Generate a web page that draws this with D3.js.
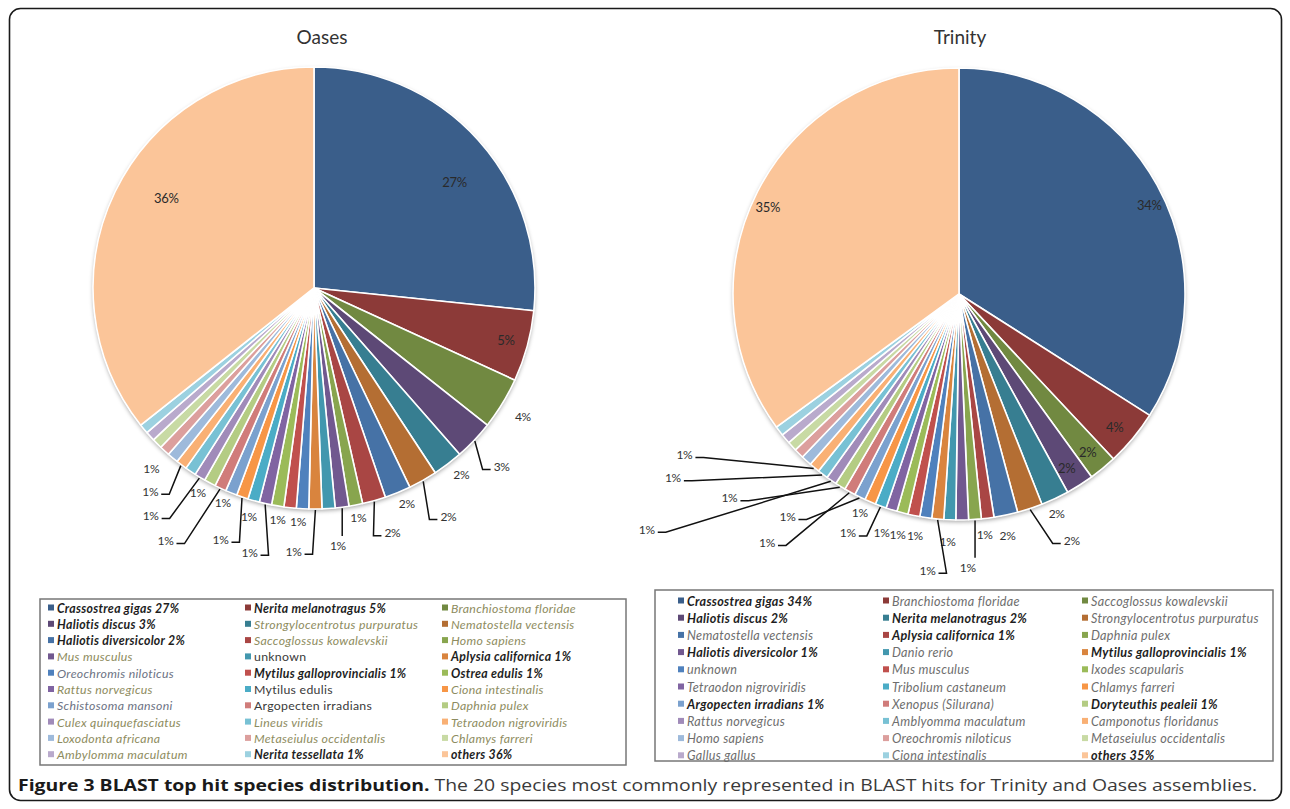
<!DOCTYPE html>
<html><head><meta charset="utf-8">
<script src="https://cdn.jsdelivr.net/npm/d3@7"></script>
<style>body{margin:0;background:#fff} svg{display:block}</style>
</head><body>
<svg id="c" width="1290" height="809"></svg>
<script>
// ---------------- DATA ----------------
const oasesSpecies = ["Crassostrea gigas 27%","Nerita melanotragus 5%","Branchiostoma floridae","Haliotis discus 3%","Strongylocentrotus purpuratus","Nematostella vectensis","Haliotis diversicolor 2%","Saccoglossus kowalevskii","Homo sapiens","Mus musculus","unknown","Aplysia californica 1%","Oreochromis niloticus","Mytilus galloprovincialis 1%","Ostrea edulis 1%","Rattus norvegicus","Mytilus edulis","Ciona intestinalis","Schistosoma mansoni","Argopecten irradians","Daphnia pulex","Culex quinquefasciatus","Lineus viridis","Tetraodon nigroviridis","Loxodonta africana","Metaseiulus occidentalis","Chlamys farreri","Ambylomma maculatum","Nerita tessellata 1%","others 36%"];
const oasesValues = [26.6,5.2,3.8,2.9,2.2,2.1,1.9,1.7,1.0,1.0,0.95,0.95,0.9,0.9,0.9,0.9,0.85,0.85,0.85,0.85,0.85,0.8,0.8,0.8,0.8,0.75,0.75,0.7,0.7,35.6];

const trinitySpecies = ["Crassostrea gigas 34%","Branchiostoma floridae","Saccoglossus kowalevskii","Haliotis discus 2%","Nerita melanotragus 2%","Strongylocentrotus purpuratus","Nematostella vectensis","Aplysia californica 1%","Daphnia pulex","Haliotis diversicolor 1%","Danio rerio","Mytilus galloprovincialis 1%","unknown","Mus musculus","Ixodes scapularis","Tetraodon nigroviridis","Tribolium castaneum","Chlamys farreri","Argopecten irradians 1%","Xenopus (Silurana)","Doryteuthis pealeii 1%","Rattus norvegicus","Amblyomma maculatum","Camponotus floridanus","Homo sapiens","Oreochromis niloticus","Metaseiulus occidentalis","Gallus gallus","Ciona intestinalis","others 35%"];
const trinityValues = [34.0,4.0,2.0,2.0,2.0,1.8,1.7,0.9,0.9,0.9,0.85,0.85,0.85,0.85,0.8,0.8,0.8,0.8,0.8,0.8,0.75,0.75,0.75,0.75,0.75,0.7,0.7,0.7,0.7,35.0];

const titles = ["Oases","Trinity"];
const captionBold = "Figure 3 BLAST top hit species distribution.";
const captionText = " The 20 species most commonly represented in BLAST hits for Trinity and Oases assemblies.";

// ---------------- LABEL LAYOUT HINTS (radial offset px, angle nudge deg; null = hidden) ----------------
const oasesLabelHints = [[-45,5],[-22,0],[24,0],[38,0],[17,-1],[44,-1],[14,-1],[36,-2],[13,0],[38,2],null,[43,4.8],null,[13,-2.3],[13,-0.5],[51,1],[17,0],[47,1.5],[12.5,1],[72,5.4],[14,1.5],[59,4.6],null,[40,2],[22,2.3],null,null,null,null,[-48,5.5]];
const trinityLabelHints = [[-16,3.8],[-21,0.9],[-22,0.4],[-21,0.6],[14,1.1],[45,-6.3],[20,0.6],[16,1.2],[48,2.2],null,[22,0.3],[52,1.1],[19,1.9],[22.6,2.8],[25,3.5],null,[37.5,4.7],[14,1.3],[55,11.6],[88,8.8],[81,16.7],[165,18.6],[114,20.2],[92,19.9],null,null,null,null,null,[-16,-2.5]];

// ---------------- STYLE ----------------
const base = ["#4F81BD","#C0504D","#9BBB59","#8064A2","#4BACC6","#F79646"];
const palette = [];
[["#000",0.27],["#000",0.12],["#fff",0],["#fff",0.25],["#fff",0.45]].forEach(([t,k])=>{
  base.forEach(c=>palette.push(d3.interpolateRgb(c,t)(k)));
});

const svg = d3.select("#c");
const defs = svg.append("defs");
const f = defs.append("filter").attr("id","sh").attr("x","-10%").attr("y","-10%").attr("width","120%").attr("height","125%");
f.append("feDropShadow").attr("dx",0).attr("dy",2).attr("stdDeviation",2.2).attr("flood-color","#000").attr("flood-opacity",0.35);

// frame
svg.append("rect").attr("x",9.5).attr("y",8.5).attr("width",1272).attr("height",792)
  .attr("rx",11).attr("fill","#fff").attr("stroke","#1a1a1a").attr("stroke-width",1.6);

const FONT = "Lato, 'Open Sans', sans-serif";

function drawPie(cfg){
  const {cx, cy, r, values, hints, title} = cfg;
  const total = d3.sum(values);
  const arcs = d3.pie().sort(null).value(d=>d)(values);
  const arcGen = d3.arc().innerRadius(0).outerRadius(r);
  const g = svg.append("g").attr("transform",`translate(${cx},${cy})`);
  g.append("circle").attr("r",r).attr("fill","#fff").attr("filter","url(#sh)");
  g.selectAll("path.s").data(arcs).join("path").attr("class","s")
    .attr("d",arcGen).attr("fill",(d,i)=>palette[i])
    .attr("stroke","#fff").attr("stroke-width",1.6).attr("stroke-linejoin","round");
  const polar = (R,a)=>[R*Math.sin(a), -R*Math.cos(a)];
  const lab = g.append("g");
  arcs.forEach((a,i)=>{
    const h = hints[i]; if(!h) return;
    const [ext, turn] = h;
    const mid = (a.startAngle+a.endAngle)/2;
    const la = mid + turn*Math.PI/180;
    const P = polar(r+ext, la);
    const txt = Math.round(a.value/total*100)+"%";
    if (ext > 30){
      const E = polar(r+1, mid);
      let pts;
      if (Math.abs(E[0]-P[0]) < 8) pts = [E,[E[0],P[1]-10]];
      else {
        const s = Math.sign(E[0]-P[0]);
        pts = [E,[P[0]+s*19,P[1]+3],[P[0]+s*11,P[1]+3]];
      }
      lab.append("path").attr("d",d3.line()(pts)).attr("fill","none")
        .attr("stroke","#111").attr("stroke-width",1.5);
    }
    const inside = ext < 0;
    lab.append("text").attr("x",P[0]).attr("y",P[1]).attr("text-anchor","middle")
      .attr("dominant-baseline","central").attr("font-family",FONT)
      .attr("font-size",inside?13:12).attr("fill",inside?"#2a2a2a":"#333")
      .attr("letter-spacing",-0.3).text(txt);
  });
  svg.append("text").attr("x",cx+(cfg.titleDx||0)).attr("y",44).attr("text-anchor","middle")
    .attr("font-family",FONT).attr("font-size",19).attr("fill","#333").text(title);
}

drawPie({cx:314, cy:288, r:221, values:oasesValues, hints:oasesLabelHints, title:titles[0], titleDx:8});
drawPie({cx:959, cy:294, r:226, values:trinityValues, hints:trinityLabelHints, title:titles[1], titleDx:1});

function drawLegend(cfg){
  const {x,y,w,h,names,colX,row0,rowH,textColor,fs} = cfg;
  svg.append("rect").attr("x",x).attr("y",y).attr("width",w).attr("height",h)
    .attr("fill","#fff").attr("stroke","#777").attr("stroke-width",1.5);
  const g = svg.append("g");
  const rowScale = d3.scaleLinear().domain([0,1]).range([row0,row0+rowH]);
  names.forEach((n,i)=>{
    const col = i%3, row = Math.floor(i/3);
    const yy = rowScale(row);
    g.append("rect").attr("x",colX[col]).attr("y",yy-3.5).attr("width",6).attr("height",6).attr("fill",palette[i]);
    const bold = n.includes("%");
    const st = textColor(n,bold);
    g.append("text").attr("x",colX[col]+9).attr("y",yy).attr("dominant-baseline","central")
      .attr("font-family",FONT).attr("font-size",fs).attr("letter-spacing",0.3)
      .attr("font-weight",bold?"bold":"normal").attr("font-style",st.italic?"italic":"normal")
      .attr("fill",st.color).text(n);
  });
}
const oasesUpright = ["unknown","Mytilus edulis","Argopecten irradians"];
const oasesGrayBlue = ["Oreochromis niloticus","Schistosoma mansoni"];
drawLegend({x:40,y:599,w:586,h:166,names:oasesSpecies,colX:[48,245,442],row0:608,rowH:16.3,fs:12.3,
  textColor:(n,b)=> b?{italic:true,color:"#1e1e1e"}:
    oasesUpright.includes(n)?{italic:false,color:"#3a3a3a"}:
    oasesGrayBlue.includes(n)?{italic:true,color:"#6d7384"}:{italic:true,color:"#8e8c60"}});
drawLegend({x:655,y:590,w:618,h:171,names:trinitySpecies,colX:[678,883,1082],row0:601,rowH:17.2,fs:12.6,
  textColor:(n,b)=> b?{italic:true,color:"#1e1e1e"}:{italic:true,color:"#6e6e6e"}});

// caption
const cap = svg.append("text").attr("x",18).attr("y",791).attr("font-family","'Liberation Sans Narrow', 'Open Sans', sans-serif")
  .attr("font-size",16).attr("textLength",1239).attr("lengthAdjust","spacingAndGlyphs");
cap.append("tspan").attr("font-weight","bold").attr("fill","#1a1a1a").text(captionBold);
cap.append("tspan").attr("fill","#3a3a3a").text(captionText);
</script>
</body></html>
